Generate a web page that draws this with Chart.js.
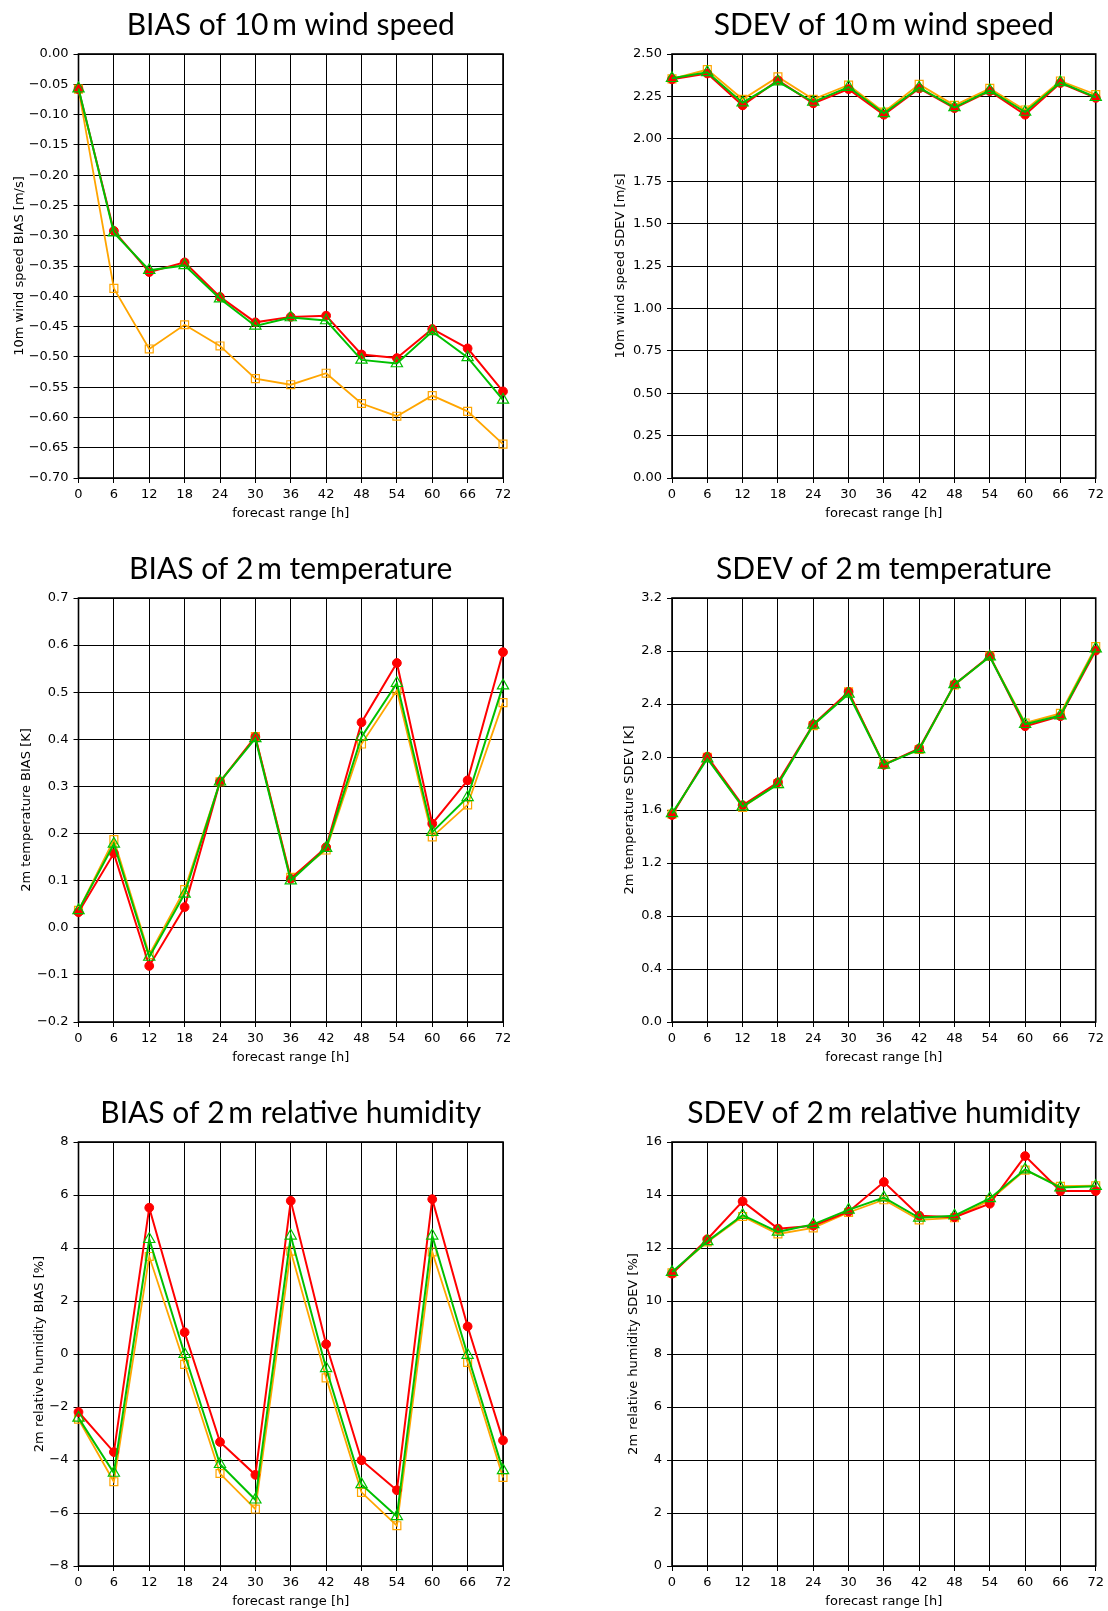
<!DOCTYPE html>
<html>
<head>
<meta charset="utf-8">
<title>Verification scores</title>
<script src="https://cdn.jsdelivr.net/npm/chart.js@4.4.1/dist/chart.umd.min.js"></script>
<style>
  html, body { margin: 0; padding: 0; background: #fff; width: 1108px; height: 1611px; overflow: hidden; }
  #page { position: relative; width: 1108px; height: 1611px; overflow: hidden; background: #fff; }
  .panel { position: absolute; width: 554px; height: 544px; }
  canvas { display: block; }
</style>
</head>
<body>
<div id="page">
  <div class="panel" style="left:0px;top:0px"><canvas id="c0" width="554" height="544"></canvas></div>
  <div class="panel" style="left:554px;top:0px"><canvas id="c1" width="554" height="544"></canvas></div>
  <div class="panel" style="left:0px;top:544px"><canvas id="c2" width="554" height="544"></canvas></div>
  <div class="panel" style="left:554px;top:544px"><canvas id="c3" width="554" height="544"></canvas></div>
  <div class="panel" style="left:0px;top:1088px"><canvas id="c4" width="554" height="544"></canvas></div>
  <div class="panel" style="left:554px;top:1088px"><canvas id="c5" width="554" height="544"></canvas></div>
</div>
<script>
// forecast lead times [h]
const hours = [0, 6, 12, 18, 24, 30, 36, 42, 48, 54, 60, 66, 72];

// 10 m wind speed BIAS [m/s]
const wsBiasRed    = [-0.058, -0.292, -0.360, -0.344, -0.401, -0.443, -0.434, -0.432, -0.496, -0.502, -0.454, -0.486, -0.557];
const wsBiasGreen  = [-0.057, -0.295, -0.357, -0.349, -0.404, -0.449, -0.435, -0.440, -0.505, -0.511, -0.458, -0.501, -0.571];
const wsBiasOrange = [-0.058, -0.387, -0.487, -0.447, -0.482, -0.536, -0.546, -0.527, -0.577, -0.598, -0.564, -0.590, -0.644];

// 10 m wind speed SDEV [m/s]
const wsSdevRed    = [2.351, 2.385, 2.197, 2.345, 2.209, 2.293, 2.142, 2.297, 2.181, 2.281, 2.142, 2.329, 2.241];
const wsSdevGreen  = [2.357, 2.392, 2.213, 2.337, 2.217, 2.305, 2.150, 2.301, 2.185, 2.285, 2.158, 2.333, 2.245];
const wsSdevOrange = [2.353, 2.408, 2.233, 2.365, 2.233, 2.317, 2.158, 2.321, 2.197, 2.297, 2.170, 2.341, 2.261];

// 2 m temperature BIAS [K]
const t2BiasRed    = [0.033, 0.158, -0.081, 0.044, 0.310, 0.405, 0.104, 0.171, 0.436, 0.562, 0.221, 0.313, 0.585];
const t2BiasGreen  = [0.037, 0.178, -0.062, 0.072, 0.310, 0.402, 0.100, 0.169, 0.405, 0.519, 0.203, 0.277, 0.514];
const t2BiasOrange = [0.037, 0.187, -0.057, 0.081, 0.310, 0.406, 0.107, 0.165, 0.390, 0.504, 0.193, 0.261, 0.478];

// 2 m temperature SDEV [K]
const t2SdevRed    = [1.562, 2.003, 1.636, 1.809, 2.247, 2.492, 1.941, 2.064, 2.548, 2.762, 2.232, 2.308, 2.803];
const t2SdevGreen  = [1.574, 1.987, 1.625, 1.794, 2.242, 2.476, 1.941, 2.057, 2.548, 2.757, 2.247, 2.313, 2.818];
const t2SdevOrange = [1.569, 1.997, 1.620, 1.799, 2.237, 2.492, 1.946, 2.057, 2.543, 2.762, 2.257, 2.329, 2.833];

// 2 m relative humidity BIAS [%]
const rhBiasRed    = [-2.19, -3.70, 5.52, 0.82, -3.32, -4.56, 5.78, 0.37, -4.01, -5.14, 5.84, 1.04, -3.26];
const rhBiasGreen  = [-2.41, -4.49, 4.33, -0.01, -4.16, -5.50, 4.46, -0.54, -4.92, -6.13, 4.46, -0.04, -4.39];
const rhBiasOrange = [-2.46, -4.82, 3.68, -0.39, -4.51, -5.85, 3.88, -0.90, -5.22, -6.48, 3.85, -0.32, -4.66];

// 2 m relative humidity SDEV [%]
const rhSdevRed    = [11.03, 12.33, 13.76, 12.73, 12.84, 13.37, 14.49, 13.22, 13.16, 13.67, 15.47, 14.15, 14.15];
const rhSdevGreen  = [11.09, 12.25, 13.24, 12.61, 12.89, 13.44, 13.90, 13.14, 13.22, 13.87, 14.96, 14.28, 14.33];
const rhSdevOrange = [11.06, 12.23, 13.19, 12.53, 12.76, 13.34, 13.82, 13.06, 13.14, 13.80, 14.94, 14.33, 14.35];

const RED = '#ff0000';
const GREEN = '#00c000';
const ORANGE = '#ffa500';
const TICK_FONT = { family: '"DejaVu Sans", sans-serif', size: 13, lineHeight: 1.2 };
const TITLE_FONT = { family: 'Lato, "Open Sans", sans-serif', size: 30, weight: 'normal', lineHeight: 1.2 };

// plot-area geometry inside each 554 x 544 canvas
const PLOT_TOP = 54;
const PLOT_BOTTOM = 478;
const COL_GEOM = [
  { left: 78.5, right: 503 },
  { left: 118, right: 543 }
];

// formats a tick value with a typographic minus sign
function fmt(v, d) {
  const r = Number(v.toFixed(d));
  if (r === 0) return (0).toFixed(d);
  return (r < 0 ? '\u2212' : '') + Math.abs(r).toFixed(d);
}

function pts(values) {
  return hours.map((h, i) => ({ x: h, y: values[i] }));
}

// closed black frame around the plotting area
const frame = {
  id: 'frame',
  beforeDatasetsDraw(chart) {
    const { ctx, chartArea: a } = chart;
    ctx.save();
    ctx.strokeStyle = '#000';
    ctx.lineWidth = 1.6;
    ctx.strokeRect(a.left, a.top, a.right - a.left, a.bottom - a.top);
    ctx.restore();
  }
};

function panel(id, p) {
  const g = COL_GEOM[p.col];
  const canvasW = 554, canvasH = 544;
  const titleLine = TITLE_FONT.size * TITLE_FONT.lineHeight;
  const titleTopPad = 7;
  return new Chart(document.getElementById(id), {
    type: 'line',
    data: {
      datasets: [
        {
          data: pts(p.green), borderColor: GREEN, backgroundColor: 'rgba(0,0,0,0)',
          borderWidth: 2, pointStyle: 'triangle', pointRadius: 6.5, pointBorderWidth: 1.2,
          pointBackgroundColor: 'rgba(0,0,0,0)', pointBorderColor: GREEN, order: 0, clip: false
        },
        {
          data: pts(p.red), borderColor: RED, backgroundColor: RED,
          borderWidth: 2, pointStyle: 'circle', pointRadius: 4.4, pointBorderWidth: 1,
          pointBackgroundColor: RED, pointBorderColor: RED, order: 1, clip: false
        },
        {
          data: pts(p.orange), borderColor: ORANGE, backgroundColor: 'rgba(0,0,0,0)',
          borderWidth: 1.8, pointStyle: 'rect', pointRadius: 5.6, pointBorderWidth: 1.2,
          pointBackgroundColor: 'rgba(0,0,0,0)', pointBorderColor: ORANGE, order: 2, clip: false
        }
      ]
    },
    options: {
      responsive: false,
      animation: false,
      devicePixelRatio: 1,
      events: [],
      layout: { padding: { left: 0, top: 0, bottom: 0, right: canvasW - g.right } },
      elements: { line: { tension: 0 } },
      plugins: {
        legend: { display: false },
        tooltip: { enabled: false },
        title: {
          display: true,
          text: p.title,
          fullSize: false,
          color: '#000',
          font: TITLE_FONT,
          padding: { top: titleTopPad, bottom: PLOT_TOP - titleLine - titleTopPad }
        }
      },
      scales: {
        x: {
          type: 'linear',
          min: 0, max: 72,
          afterFit(s) { s.height = canvasH - PLOT_BOTTOM; },
          grid: { color: '#000', lineWidth: 1, tickLength: 5, drawTicks: true },
          border: { display: false },
          ticks: {
            stepSize: 6, autoSkip: false, maxRotation: 0, padding: 4,
            color: '#000', font: TICK_FONT,
            callback: (v) => String(v)
          },
          title: {
            display: true, text: 'forecast range [h]', color: '#000',
            font: TICK_FONT, padding: { top: 0, bottom: 23 }
          }
        },
        y: {
          type: 'linear',
          min: p.min, max: p.max,
          afterFit(s) { s.width = g.left; },
          grid: { color: '#000', lineWidth: 1, tickLength: 5, drawTicks: true },
          border: { display: false },
          ticks: {
            stepSize: p.step, autoSkip: false, padding: 5,
            color: '#000', font: TICK_FONT,
            callback: (v) => fmt(v, p.dec)
          },
          title: {
            display: true, text: p.yTitle, color: '#000',
            font: TICK_FONT, padding: { top: p.yTitleX - 7.8, bottom: 0 }
          }
        }
      }
    },
    plugins: [frame]
  });
}

panel('c0', {
  col: 0, title: 'BIAS of 10\u2009m wind speed', yTitle: '10m wind speed BIAS [m/s]', yTitleX: 19.4,
  min: -0.70, max: 0, step: 0.05, dec: 2,
  red: wsBiasRed, green: wsBiasGreen, orange: wsBiasOrange
});
panel('c1', {
  col: 1, title: 'SDEV of 10\u2009m wind speed', yTitle: '10m wind speed SDEV [m/s]', yTitleX: 67,
  min: 0, max: 2.5, step: 0.25, dec: 2,
  red: wsSdevRed, green: wsSdevGreen, orange: wsSdevOrange
});
panel('c2', {
  col: 0, title: 'BIAS of 2\u2009m temperature', yTitle: '2m temperature BIAS [K]', yTitleX: 26.5,
  min: -0.2, max: 0.7, step: 0.1, dec: 1,
  red: t2BiasRed, green: t2BiasGreen, orange: t2BiasOrange
});
panel('c3', {
  col: 1, title: 'SDEV of 2\u2009m temperature', yTitle: '2m temperature SDEV [K]', yTitleX: 75.3,
  min: 0, max: 3.2, step: 0.4, dec: 1,
  red: t2SdevRed, green: t2SdevGreen, orange: t2SdevOrange
});
panel('c4', {
  col: 0, title: 'BIAS of 2\u2009m relative humidity', yTitle: '2m relative humidity BIAS [%]', yTitleX: 39.6,
  min: -8, max: 8, step: 2, dec: 0,
  red: rhBiasRed, green: rhBiasGreen, orange: rhBiasOrange
});
panel('c5', {
  col: 1, title: 'SDEV of 2\u2009m relative humidity', yTitle: '2m relative humidity SDEV [%]', yTitleX: 79.5,
  min: 0, max: 16, step: 2, dec: 0,
  red: rhSdevRed, green: rhSdevGreen, orange: rhSdevOrange
});
</script>
</body>
</html>
